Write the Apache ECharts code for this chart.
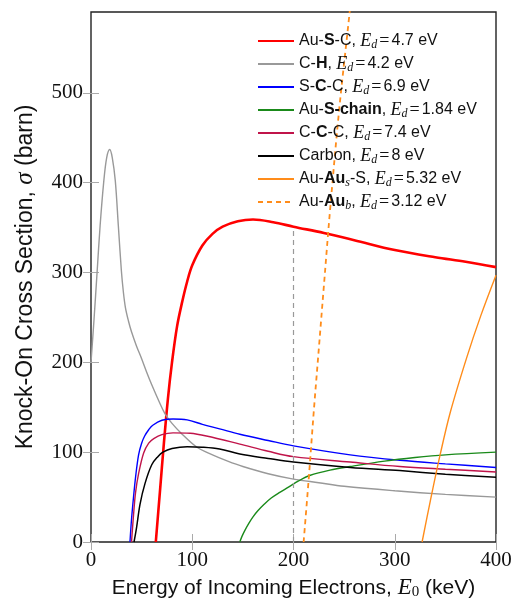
<!DOCTYPE html>
<html>
<head>
<meta charset="utf-8">
<script src="https://cdn.jsdelivr.net/npm/echarts@6/dist/echarts.min.js"></script>
<style>
  html, body { margin: 0; background: #fff; }
  #chart { width: 515px; height: 605px; }
</style>
</head>
<body>
<div id="chart"></div>
<script>
// knock-on cross sections, [E0 keV, sigma barn]
const auSC = [[64,0],[68,55],[72,110],[76,160],[80,200],[85,240],[90,267],[95,290],[100,308],[110,330],[120,343],[130,351],[145,357],[160,359],[180,356],[200,351],[230,344],[260,336],[300,325],[340,317],[370,312],[400,306]];
const cH = [[0,200],[3,248],[6,300],[9,352],[12.5,400],[15.5,428],[18.5,437],[21,428],[24,402],[27,352],[30,302],[32,278],[34,261],[37,246],[40,234],[45,218],[50,204],[55,189],[60,175],[67,157],[73,143],[80,132],[90,120],[104,106],[120,97],[135,90],[150,84],[175,76],[200,70],[225,66],[250,62],[300,57],[350,53],[400,50]];
const sCC = [[38.5,0],[40,25],[42,50],[44,72],[47,97],[50,110],[53,118],[57,125],[61,130],[70,135.5],[81,137],[95,136],[110,131],[127,126],[147,120],[175,113],[200,107],[256,97],[305,91],[350,87],[400,83]];
const auSChain = [[147,0],[149,6],[152,13],[156,21],[160,28],[165,35],[171,42],[178,49],[186,55],[195,61],[205,68],[216,74],[236,80],[256,84],[290,90],[320,94],[350,97],[400,100]];
const cCC = [[40,0],[42,30],[44,55],[47,76],[52,99],[57,110],[62,115],[70,119.5],[81,121.5],[98,121],[114,118],[147,109],[175,101],[200,95],[256,89],[305,84],[350,81],[400,78]];
const carbon = [[42.5,0],[45,16],[48.4,42],[53.3,65],[60,86],[66,95],[71,100],[80,104],[95,106],[110,105.5],[127,103.5],[147,98],[175,93],[200,89],[256,83],[305,79.5],[350,75.5],[400,72]];
const auAusS = [[327,0],[335,45],[345,98],[355,145],[371,205],[385,252],[400,297]];
const auAub = [[210,0],[215,70],[220,145],[225,215],[230,285],[236,368],[245,480],[255,585],[260,640]];
const guide200 = [[200,0],[200,350]];

const xTicks = [0, 100, 200, 300, 400];
const yTicks = [0, 100, 200, 300, 400, 500];

const names = ['Au-S-C', 'C-H', 'S-C-C', 'Au-S-chain', 'C-C-C', 'Carbon', 'Au-Aus-S', 'Au-Aub'];
const legendText = {
  'Au-S-C': 'Au-{b|S}-C, {i|E}{sub|d}{m|=}4.7 eV',
  'C-H': 'C-{b|H}, {i|E}{sub|d}{m|=}4.2 eV',
  'S-C-C': 'S-{b|C}-C, {i|E}{sub|d}{m|=}6.9 eV',
  'Au-S-chain': 'Au-{b|S-chain}, {i|E}{sub|d}{m|=}1.84 eV',
  'C-C-C': 'C-{b|C}-C, {i|E}{sub|d}{m|=}7.4 eV',
  'Carbon': 'Carbon, {i|E}{sub|d}{m|=}8 eV',
  'Au-Aus-S': 'Au-{b|Au}{sub|s}-S, {i|E}{sub|d}{m|=}5.32 eV',
  'Au-Aub': 'Au-{b|Au}{sub|b}, {i|E}{sub|d}{m|=}3.12 eV'
};

const sans = 'Liberation Sans';
const serif = 'Liberation Serif';

function curve(name, data, color, width, type) {
  return {
    name: name, type: 'line', data: data,
    symbol: 'none', showSymbol: false, smooth: 0.35,
    lineStyle: { color: color, width: width, type: type || 'solid' },
    itemStyle: { color: color }
  };
}

function ticks(values) {
  return { inside: true, length: 8, customValues: values, lineStyle: { color: '#aaa', width: 1 } };
}

const chart = echarts.init(document.getElementById('chart'));
chart.setOption({
  animation: false,
  grid: { left: 91, right: 19, top: 12, bottom: 60, show: true, borderColor: '#222', borderWidth: 1.4, backgroundColor: 'transparent' },
  legend: {
    data: names, orient: 'vertical', left: 257, top: 32, padding: 0,
    itemWidth: 36, itemHeight: 14, itemGap: 4,
    itemStyle: { opacity: 0 },
    formatter: function (n) { return legendText[n]; },
    textStyle: {
      fontFamily: sans, fontSize: 16, color: '#111', lineHeight: 18,
      rich: {
        b: { fontFamily: sans, fontSize: 16, fontWeight: 'bold', color: '#111' },
        i: { fontFamily: serif, fontSize: 18, fontStyle: 'italic', color: '#111' },
        m: { fontFamily: serif, fontSize: 18, color: '#111', padding: [0, 2, 0, 2] },
        sub: { fontFamily: serif, fontSize: 12, fontStyle: 'italic', color: '#111', padding: [8, 0, 0, 0] }
      }
    }
  },
  xAxis: [{
    type: 'value', min: 0, max: 400, interval: 100,
    name: 'Energy of Incoming Electrons, {i|E}{sub|0} (keV)',
    nameLocation: 'middle', nameGap: 34,
    nameTextStyle: {
      fontFamily: sans, fontSize: 21, color: '#111',
      rich: {
        i: { fontFamily: serif, fontSize: 23, fontStyle: 'italic', color: '#111' },
        sub: { fontFamily: serif, fontSize: 15, color: '#111', padding: [9, 0, 0, 0] }
      }
    },
    axisLine: { show: false },
    axisTick: ticks(xTicks),
    axisLabel: { fontFamily: serif, fontSize: 21, color: '#111', margin: 8, customValues: xTicks },
    splitLine: { show: false }
  }, {
    type: 'value', position: 'top', min: 0, max: 400, interval: 100,
    axisLine: { show: false },
    axisTick: ticks(xTicks),
    axisLabel: { show: false }, splitLine: { show: false }
  }],
  yAxis: [{
    type: 'value', min: 0, max: 590, interval: 100,
    name: 'Knock-On Cross Section, {i|σ} (barn)',
    nameLocation: 'middle', nameGap: 53, nameRotate: 90,
    nameTextStyle: {
      fontFamily: sans, fontSize: 23, color: '#111',
      rich: { i: { fontFamily: serif, fontSize: 25, fontStyle: 'italic', color: '#111' } }
    },
    axisLine: { show: false },
    axisTick: ticks(yTicks),
    axisLabel: { fontFamily: serif, fontSize: 21, color: '#111', margin: 8, customValues: yTicks },
    splitLine: { show: false }
  }, {
    type: 'value', position: 'right', min: 0, max: 590, interval: 100,
    axisLine: { show: false },
    axisTick: ticks(yTicks),
    axisLabel: { show: false }, splitLine: { show: false }
  }],
  series: [
    curve('Au-S-C', auSC, '#ff0000', 2.6),
    curve('C-H', cH, '#999999', 1.4),
    curve('S-C-C', sCC, '#0000ff', 1.4),
    curve('Au-S-chain', auSChain, '#1a8a1a', 1.4),
    curve('C-C-C', cCC, '#c0144a', 1.4),
    curve('Carbon', carbon, '#000000', 1.5),
    curve('Au-Aus-S', auAusS, '#ff8c1a', 1.4),
    curve('Au-Aub', auAub, '#ff8c1a', 1.8, [5, 4]),
    {
      name: 'guide', type: 'line', data: guide200, symbol: 'none', silent: true,
      lineStyle: { color: '#999', width: 1.2, type: [5, 4] }
    }
  ]
});
</script>
</body>
</html>
